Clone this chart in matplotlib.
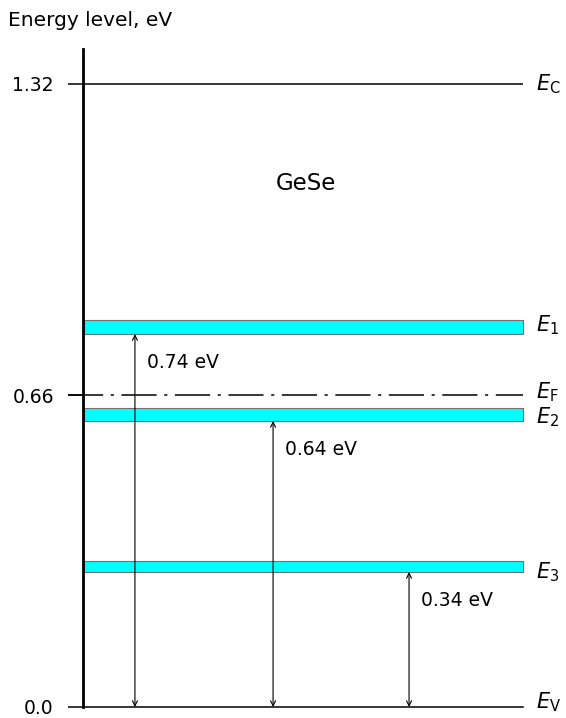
import matplotlib
matplotlib.use("Agg")
import matplotlib.pyplot as plt

# energy levels (eV)
e_c = 1.32
e_f = 0.66
e_v = 0.0
band_names = ["$E_1$", "$E_2$", "$E_3$"]
band_bottom = [0.790, 0.606, 0.286]
band_top = [0.820, 0.634, 0.309]
gap_labels = ["0.74 eV", "0.64 eV", "0.34 eV"]
tick_values = [0.0, 0.66, 1.32]
tick_labels = ["0.0", "0.66", "1.32"]

W, H = 566, 718
fig = plt.figure(figsize=(W / 100, H / 100), dpi=100)
x0, x1, y0, y1 = 83, 523, 707, 49
ax = fig.add_axes([x0 / W, 1 - y0 / H, (x1 - x0) / W, (y0 - y1) / H])
ax.set_xlim(0, 1)
ax.set_ylim(0, (y0 - y1) / (y0 - 84) * e_c)

for s in ["top", "right", "bottom"]:
    ax.spines[s].set_visible(False)
ax.spines["left"].set_linewidth(2)
ax.set_xticks([])
ax.set_yticks(tick_values)
ax.set_yticklabels(tick_labels)
ax.tick_params(axis="y", length=11, width=1.1, pad=10, labelsize=13.5)

# conduction / valence band edges
ax.plot([0, 1], [e_c, e_c], color="black", lw=1.1)
ax.plot([0, 1], [e_v, e_v], color="black", lw=1.1, clip_on=False)
# fermi level
ax.plot([-0.034, 1], [e_f, e_f], color="black", lw=1.1,
        linestyle=(0, (23, 5, 2, 5)), clip_on=False)

# defect bands
for b, t in zip(band_bottom, band_top):
    ax.fill_between([0.002, 1], b, t, facecolor="#00ffff",
                    edgecolor="#707070", lw=0.8)

# transition arrows
arrow_x = [0.118, 0.432, 0.741]
for x, b, lab in zip(arrow_x, band_bottom, gap_labels):
    ax.annotate("", xy=(x, b), xytext=(x, e_v),
                arrowprops=dict(arrowstyle="<->", lw=0.8, color="black",
                                mutation_scale=9, shrinkA=0, shrinkB=0))
    ax.text(x + 0.027, b - 0.06, lab, fontsize=13.5, va="center", ha="left")

# right labels
lx = 1.03
ax.text(lx, e_c, r"$E_\mathrm{C}$", fontsize=15, va="center")
ax.text(lx, e_v + 0.01, r"$E_\mathrm{V}$", fontsize=15, va="center", clip_on=False)
ax.text(lx, e_f + 0.008, r"$E_\mathrm{F}$", fontsize=15, va="center")
ax.text(lx, band_bottom[0] + 0.02, band_names[0], fontsize=15, va="center")
ax.text(lx, band_bottom[1] + 0.008, band_names[1], fontsize=15, va="center")
ax.text(lx, band_bottom[2] + 0.0, band_names[2], fontsize=15, va="center")

ax.text(0.506, 1.11, "GeSe", fontsize=16.5, ha="center", va="center")
fig.text(8 / W, 1 - 20 / H, "Energy level, eV", fontsize=14.5, va="center", ha="left")

fig.savefig("out.png", dpi=100)
